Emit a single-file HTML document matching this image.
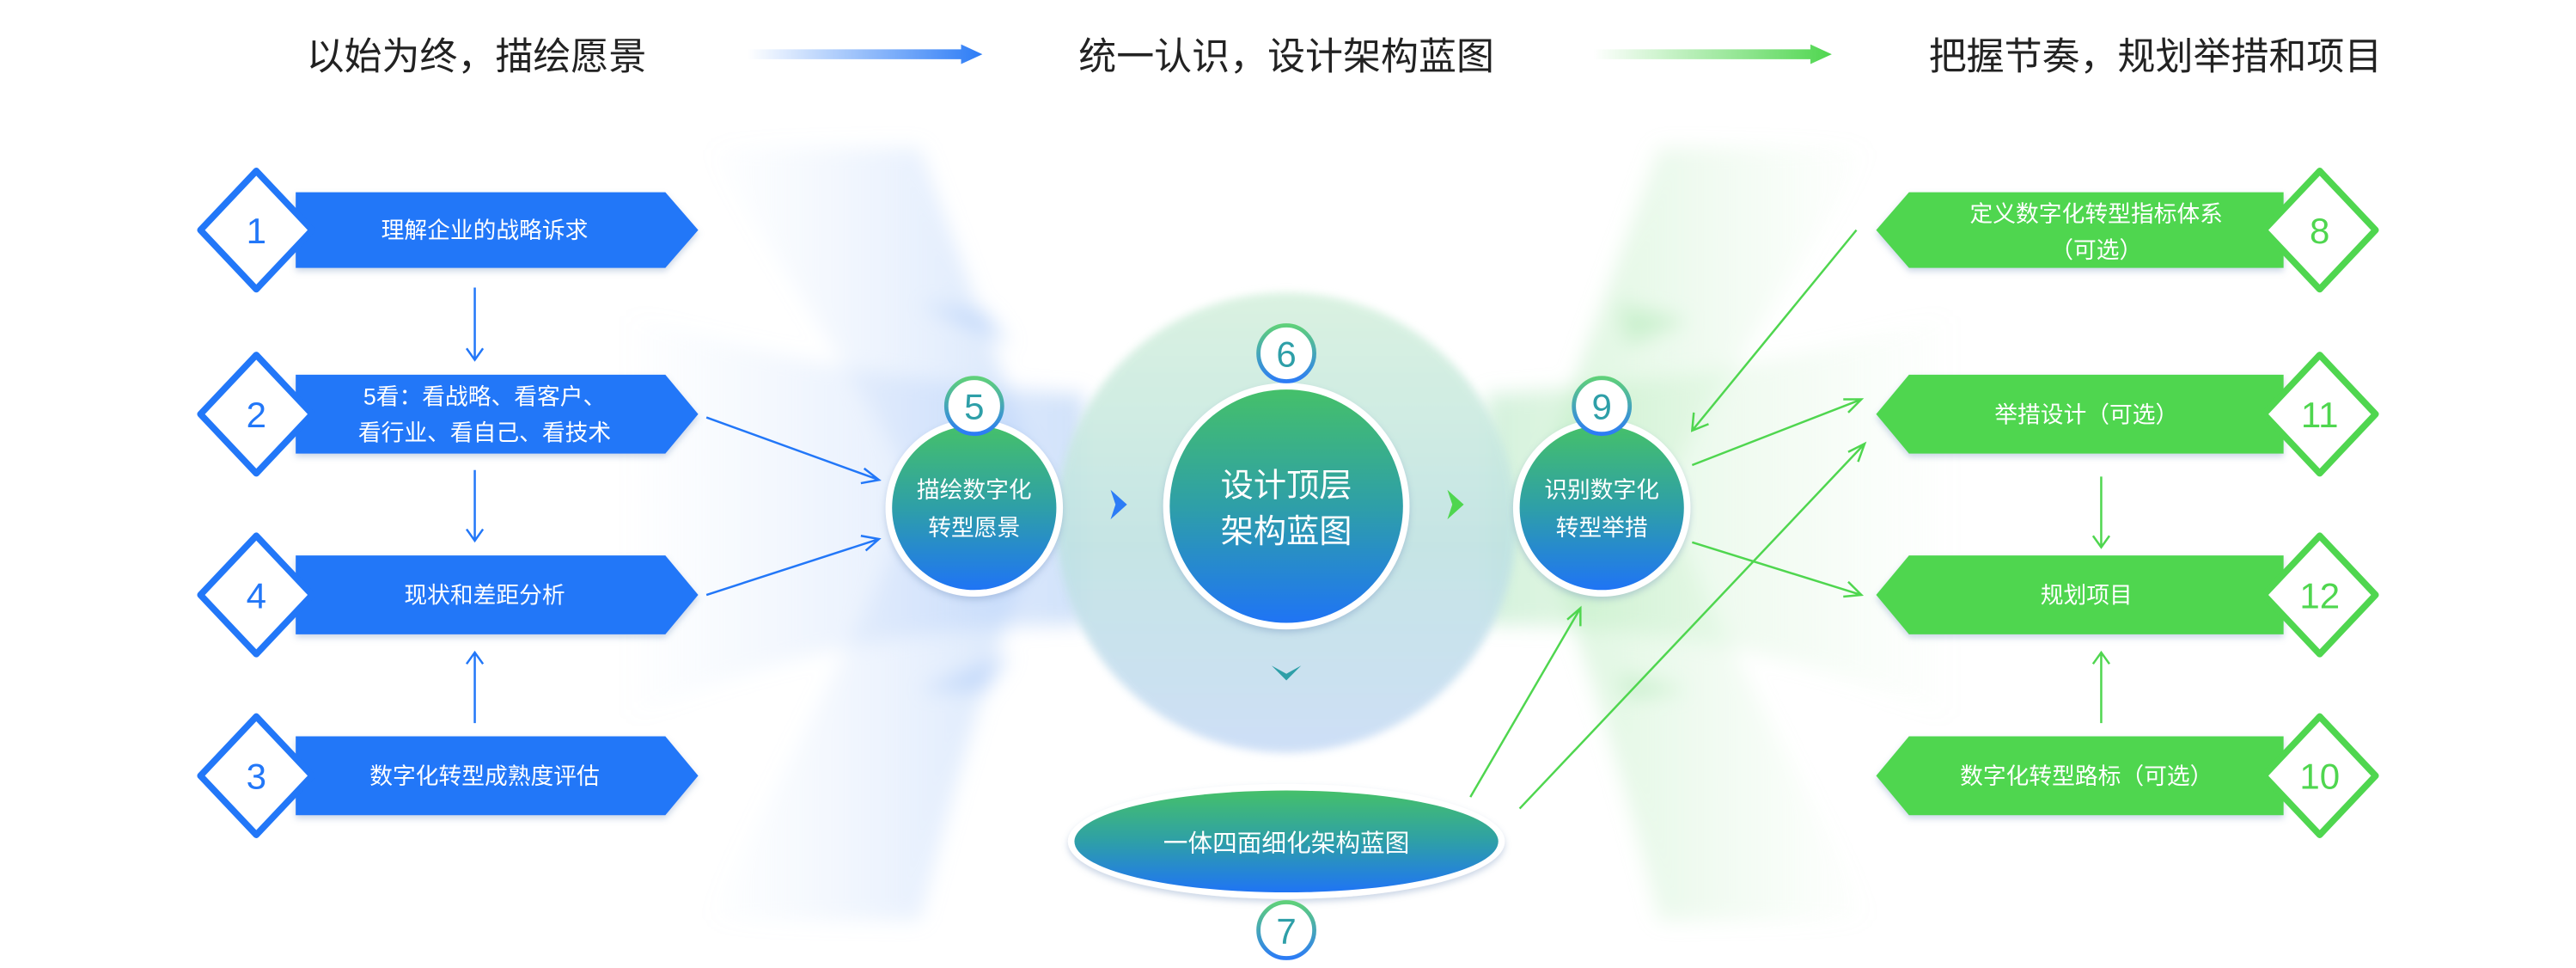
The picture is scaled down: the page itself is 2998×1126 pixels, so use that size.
<!DOCTYPE html>
<html><head><meta charset="utf-8"><style>
html,body{margin:0;padding:0;background:#fff;}
svg{display:block;}
text{font-family:"Liberation Sans","Noto Sans CJK SC",sans-serif;}
</style></head><body>
<svg width="2998" height="1126" viewBox="0 0 1568 589" preserveAspectRatio="none" xmlns="http://www.w3.org/2000/svg">
<defs>
<linearGradient id="tb" x1="0" x2="1"><stop offset="0" stop-color="#2c7cf6" stop-opacity="0"/><stop offset="1" stop-color="#2c7cf6"/></linearGradient>
<linearGradient id="tg" x1="0" x2="1"><stop offset="0" stop-color="#4fd64f" stop-opacity="0"/><stop offset="1" stop-color="#4fd64f"/></linearGradient>
<linearGradient id="cg" x1="0" y1="0" x2="0" y2="1"><stop offset="0" stop-color="#45c06a"/><stop offset="0.5" stop-color="#2e9fa8"/><stop offset="1" stop-color="#1f74f5"/></linearGradient>
<linearGradient id="bg" x1="0" y1="0" x2="0" y2="1"><stop offset="0" stop-color="#5fd07a"/><stop offset="1" stop-color="#2c7cf6"/></linearGradient>
<linearGradient id="fanL" x1="0" x2="1"><stop offset="0" stop-color="#cfe0fb" stop-opacity="0"/><stop offset="0.8" stop-color="#b8d2fa" stop-opacity="0.8"/><stop offset="1" stop-color="#a8c8f5" stop-opacity="0.9"/></linearGradient>
<linearGradient id="fanR" x1="1" x2="0"><stop offset="0" stop-color="#d6f5d6" stop-opacity="0"/><stop offset="0.8" stop-color="#bfeec3" stop-opacity="0.8"/><stop offset="1" stop-color="#b0e6c0" stop-opacity="0.9"/></linearGradient>
<linearGradient id="big" x1="0" y1="0" x2="0" y2="1"><stop offset="0" stop-color="#d6f1de"/><stop offset="0.55" stop-color="#bfe2e2"/><stop offset="1" stop-color="#c9dcf6"/></linearGradient>
<filter id="sh" x="-20%" y="-20%" width="140%" height="140%"><feDropShadow dx="0" dy="2" stdDeviation="2" flood-color="#6a8bb8" flood-opacity="0.35"/></filter>
<filter id="bl" x="-20%" y="-20%" width="140%" height="140%"><feGaussianBlur stdDeviation="6"/></filter>
<filter id="bl2" x="-20%" y="-20%" width="140%" height="140%"><feGaussianBlur stdDeviation="2.5"/></filter>
</defs>

<!-- fans -->
<g filter="url(#bl)">
<path d="M430 90 Q520 230 560 300 Q520 390 430 560 L560 560 Q600 400 640 310 Q600 200 560 90 Z" fill="url(#fanL)" opacity="0.55"/>
<path d="M380 190 Q500 230 660 240 L660 380 Q500 380 380 440 Z" fill="url(#fanL)" opacity="0.6"/>
<path d="M1140 90 Q1050 230 1010 300 Q1050 390 1140 560 L1010 560 Q970 400 930 310 Q970 200 1010 90 Z" fill="url(#fanR)" opacity="0.55"/>
<path d="M1190 190 Q1070 230 905 240 L905 380 Q1070 380 1190 440 Z" fill="url(#fanR)" opacity="0.6"/>
<path d="M560 185 L615 210 L600 190 Z M560 420 L615 398 L600 420 Z" fill="#b8d2fa" opacity="0.7"/>
<path d="M985 185 L1028 195 L990 210 Z M985 410 L1028 420 L990 425 Z" fill="#c4efc8" opacity="0.8"/>
</g>
<circle cx="783" cy="318" r="140" fill="url(#big)" opacity="0.9" filter="url(#bl2)"/>

<!-- titles -->
<text x="290" y="42" font-size="23" text-anchor="middle" fill="#222">以始为终，描绘愿景</text>
<path d="M455 30 H585 V27 L598 33 L585 39 V36 H455 Z" fill="url(#tb)"/>
<text x="783" y="42" font-size="23" text-anchor="middle" fill="#222">统一认识，设计架构蓝图</text>
<path d="M970 30 H1102 V27 L1115 33 L1102 39 V36 H970 Z" fill="url(#tg)"/>
<text x="1312" y="42" font-size="23" text-anchor="middle" fill="#222">把握节奏，规划举措和项目</text>

<!-- left banners -->
<g fill="#2277f8" filter="url(#sh)">
<path d="M180 117 H405 L425 140 L405 163 H180 Z"/>
<path d="M180 228 H405 L425 252 L405 276 H180 Z"/>
<path d="M180 338 H405 L425 362 L405 386 H180 Z"/>
<path d="M180 448 H405 L425 472 L405 496 H180 Z"/>
</g>
<g fill="#fff" stroke="#2277f8" stroke-width="4" stroke-linejoin="round">
<path d="M156 104 L190 140 L156 176 L122 140 Z"/>
<path d="M156 216 L190 252 L156 288 L122 252 Z"/>
<path d="M156 326 L190 362 L156 398 L122 362 Z"/>
<path d="M156 436 L190 472 L156 508 L122 472 Z"/>
</g>
<g font-size="22" fill="#2277f8" text-anchor="middle">
<text x="156" y="148">1</text><text x="156" y="260">2</text><text x="156" y="370">4</text><text x="156" y="480">3</text>
</g>
<g font-size="14" fill="#fff" text-anchor="middle">
<text x="295" y="145">理解企业的战略诉求</text>
<text x="295" y="246">5看：看战略、看客户、</text>
<text x="295" y="268">看行业、看自己、看技术</text>
<text x="295" y="367">现状和差距分析</text>
<text x="295" y="477">数字化转型成熟度评估</text>
</g>
<g stroke="#2277f8" stroke-width="1.3" fill="none">
<path d="M289 175 V219 M284 212 L289 219 L294 212"/>
<path d="M289 286 V329 M284 322 L289 329 L294 322"/>
<path d="M289 440 V397 M284 404 L289 397 L294 404"/>
<path d="M430 254 L535 292 M526 285 L535 292 L524 294"/>
<path d="M430 362 L535 328 M524 326 L535 328 L527 335"/>
</g>

<!-- right banners -->
<g fill="#4fd64f" filter="url(#sh)">
<path d="M1390 117 H1162 L1142 140 L1162 163 H1390 Z"/>
<path d="M1390 228 H1162 L1142 252 L1162 276 H1390 Z"/>
<path d="M1390 338 H1162 L1142 362 L1162 386 H1390 Z"/>
<path d="M1390 448 H1162 L1142 472 L1162 496 H1390 Z"/>
</g>
<g fill="#fff" stroke="#4fd64f" stroke-width="4" stroke-linejoin="round">
<path d="M1412 104 L1446 140 L1412 176 L1378 140 Z"/>
<path d="M1412 216 L1446 252 L1412 288 L1378 252 Z"/>
<path d="M1412 326 L1446 362 L1412 398 L1378 362 Z"/>
<path d="M1412 436 L1446 472 L1412 508 L1378 472 Z"/>
</g>
<g font-size="22" fill="#4fd64f" text-anchor="middle">
<text x="1412" y="148">8</text><text x="1412" y="260">11</text><text x="1412" y="370">12</text><text x="1412" y="480">10</text>
</g>
<g font-size="14" fill="#fff" text-anchor="middle">
<text x="1276" y="135">定义数字化转型指标体系</text>
<text x="1276" y="157">（可选）</text>
<text x="1270" y="257">举措设计（可选）</text>
<text x="1270" y="367">规划项目</text>
<text x="1270" y="477">数字化转型路标（可选）</text>
</g>
<g stroke="#4fd64f" stroke-width="1.3" fill="none">
<path d="M1279 290 V333 M1274 326 L1279 333 L1284 326"/>
<path d="M1279 440 V397 M1274 404 L1279 397 L1284 404"/>
<path d="M1130 140 L1030 262 M1031 251 L1030 262 L1040 258"/>
<path d="M1030 283 L1133 243 M1122 243 L1133 243 L1125 251"/>
<path d="M1030 330 L1133 362 M1125 354 L1133 362 L1122 363"/>
<path d="M895 485 L962 370 M954 377 L962 370 L962 381"/>
<path d="M925 492 L1135 270 M1125 275 L1135 270 L1131 281"/>
</g>

<!-- circles -->
<g filter="url(#sh)">
<circle cx="593" cy="309" r="54" fill="#fff"/>
<circle cx="783" cy="308" r="75" fill="#fff"/>
<circle cx="975" cy="309" r="54" fill="#fff"/>
<ellipse cx="783" cy="512" rx="133" ry="35" fill="#fff"/>
</g>
<circle cx="593" cy="309" r="50" fill="url(#cg)"/>
<circle cx="783" cy="308" r="71" fill="url(#cg)"/>
<circle cx="975" cy="309" r="50" fill="url(#cg)"/>
<ellipse cx="783" cy="512" rx="129" ry="31" fill="url(#cg)"/>
<g fill="#fff" stroke="url(#bg)" stroke-width="2.5">
<circle cx="593" cy="247" r="17"/>
<circle cx="783" cy="215" r="17"/>
<circle cx="975" cy="247" r="17"/>
<circle cx="783" cy="566" r="17"/>
</g>
<g font-size="22" fill="#2e9fa8" text-anchor="middle">
<text x="593" y="255">5</text><text x="783" y="223">6</text><text x="975" y="255">9</text><text x="783" y="574">7</text>
</g>
<g fill="#fff" text-anchor="middle">
<text x="593" y="303" font-size="14">描绘数字化</text>
<text x="593" y="326" font-size="14">转型愿景</text>
<text x="783" y="302" font-size="20">设计顶层</text>
<text x="783" y="330" font-size="20">架构蓝图</text>
<text x="975" y="303" font-size="14">识别数字化</text>
<text x="975" y="326" font-size="14">转型举措</text>
<text x="783" y="518" font-size="15">一体四面细化架构蓝图</text>
</g>
<path d="M676 298 L686 307 L676 316 L679 307 Z" fill="#2c7cf6"/>
<path d="M881 298 L891 307 L881 316 L884 307 Z" fill="#4fd64f"/>
<path d="M774 405 L783 414 L792 405 L783 410 Z" fill="#2e9fa8"/>
</svg>
</body></html>
